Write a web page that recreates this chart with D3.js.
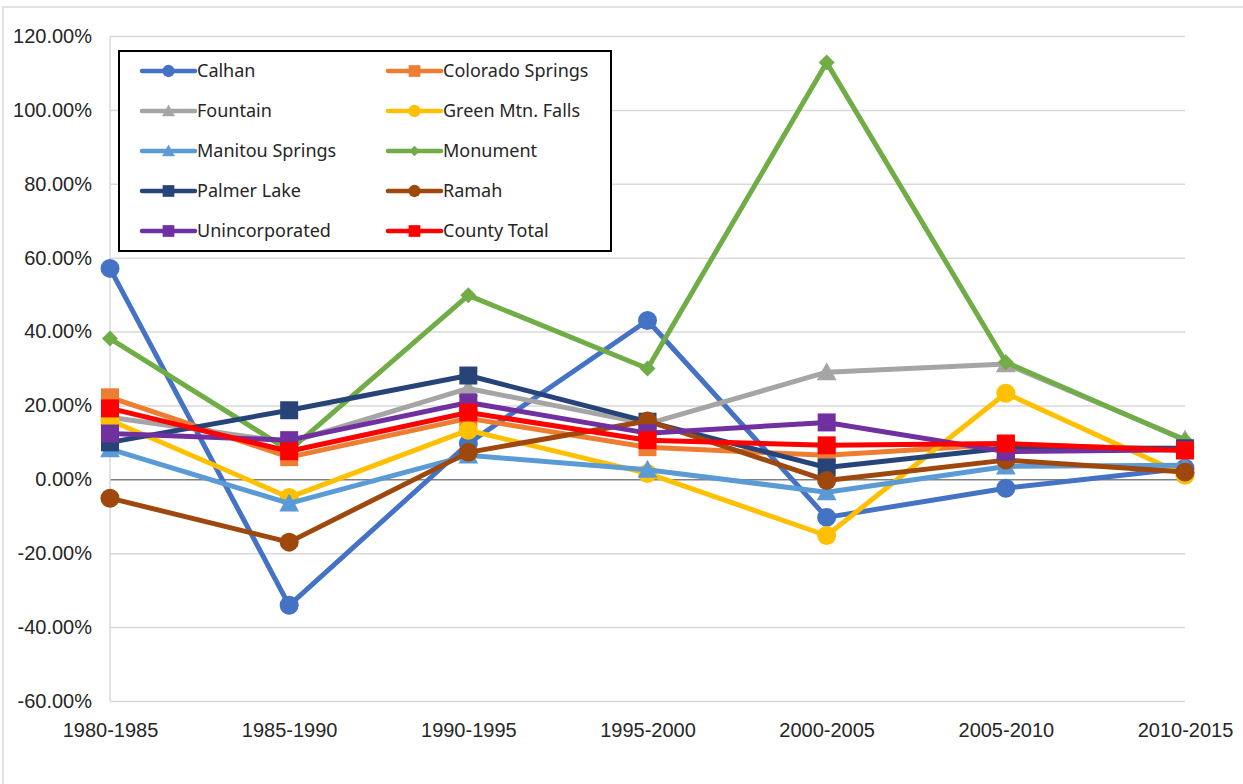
<!DOCTYPE html>
<html>
<head>
<meta charset="utf-8">
<script src="https://cdn.jsdelivr.net/npm/d3@7"></script>
<style>
    html, body { margin: 0; padding: 0; background: #fff; }
    svg { display: block; font-family: "Noto Sans", "Open Sans", sans-serif; }
    .grid-line { stroke: #d9d9d9; stroke-width: 1.5; }
</style>
</head>
<body>
<div id="chart"></div>
<script>
(function () {
    "use strict";

    var periods = ['1980-1985', '1985-1990', '1990-1995', '1995-2000', '2000-2005', '2005-2010', '2010-2015'];
    var yTicks = [-60, -40, -20, 0, 20, 40, 60, 80, 100, 120];

    // growth rate per period, in percent
    var calhan = [57.1, -34.1, 9.7, 43.0, -10.3, -2.4, 3.0];
    var coloradoSprings = [22.2, 6.0, 16.5, 8.7, 6.5, 9.5, 8.0];
    var fountain = [16.8, 10.0, 24.6, 15.0, 29.0, 31.2, 10.8];
    var greenMtnFalls = [16.0, -4.9, 13.3, 1.6, -15.2, 23.3, 1.1];
    var manitouSprings = [8.2, -6.5, 6.5, 2.6, -3.5, 3.5, 3.8];
    var monument = [38.1, 7.8, 49.8, 30.0, 112.8, 31.7, 10.6];
    var palmerLake = [10.0, 18.7, 28.1, 15.6, 3.2, 8.5, 8.4];
    var ramah = [-5.1, -17.0, 7.3, 15.8, -0.3, 5.2, 2.0];
    var unincorporated = [12.4, 10.6, 20.8, 12.5, 15.4, 7.5, 8.0];
    var countyTotal = [19.2, 7.6, 18.1, 10.6, 9.2, 9.7, 7.8];

    var series = [
        { name: 'Calhan', values: calhan, color: '#4472C4', marker: 'circle' },
        { name: 'Colorado Springs', values: coloradoSprings, color: '#ED7D31', marker: 'square' },
        { name: 'Fountain', values: fountain, color: '#A5A5A5', marker: 'triangle' },
        { name: 'Green Mtn. Falls', values: greenMtnFalls, color: '#FFC000', marker: 'circle' },
        { name: 'Manitou Springs', values: manitouSprings, color: '#5B9BD5', marker: 'triangle' },
        { name: 'Monument', values: monument, color: '#70AD47', marker: 'diamond' },
        { name: 'Palmer Lake', values: palmerLake, color: '#264478', marker: 'square' },
        { name: 'Ramah', values: ramah, color: '#9E480E', marker: 'circle' },
        { name: 'Unincorporated', values: unincorporated, color: '#7030A0', marker: 'square' },
        { name: 'County Total', values: countyTotal, color: '#FF0000', marker: 'square' }
    ];

    var width = 1243, height = 784;
    var plot = { left: 110, right: 1185, top: 36, bottom: 701 };

    var svg = d3.select('#chart').append('svg')
        .attr('width', width)
        .attr('height', height);

    // chart area border
    svg.append('rect')
        .attr('x', 3).attr('y', 7)
        .attr('width', width + 10).attr('height', height + 10)
        .attr('fill', '#fff').attr('stroke', '#d9d9d9').attr('stroke-width', 1.5);

    var x = d3.scalePoint()
        .domain(periods)
        .range([plot.left, plot.right]);

    var y = d3.scaleLinear()
        .domain([-60, 120])
        .range([plot.bottom, plot.top]);

    var pctFormat = function (d) { return d.toFixed(2) + '%'; };

    // y axis with gridlines
    var yAxis = d3.axisLeft(y)
        .tickValues(yTicks)
        .tickFormat(pctFormat)
        .tickSize(0)
        .tickPadding(18);

    var yAxisG = svg.append('g')
        .attr('class', 'y axis')
        .attr('transform', 'translate(' + plot.left + ',0)')
        .call(yAxis);
    yAxisG.select('.domain').remove();
    yAxisG.selectAll('text')
        .attr('font-size', 20)
        .attr('fill', '#262626');
    yAxisG.selectAll('g.tick').append('line')
        .attr('class', 'grid-line')
        .attr('x1', 0).attr('x2', plot.right - plot.left)
        .attr('y1', 0).attr('y2', 0)
        .filter(function (d) { return d === 0; })
        .style('stroke', '#7f7f7f');

    // vertical axis line
    svg.append('line')
        .attr('class', 'grid-line')
        .attr('x1', plot.left).attr('x2', plot.left)
        .attr('y1', y(120)).attr('y2', y(-60));

    // x axis labels at the bottom
    var xAxis = d3.axisBottom(x)
        .tickSize(0)
        .tickPadding(22);

    var xAxisG = svg.append('g')
        .attr('class', 'x axis')
        .attr('transform', 'translate(0,' + plot.bottom + ')')
        .call(xAxis);
    xAxisG.select('.domain').remove();
    xAxisG.selectAll('text')
        .attr('font-size', 20)
        .attr('fill', '#262626');

    function markerPath(type, size) {
        var s = size;
        if (type === 'circle') return d3.symbol().type(d3.symbolCircle).size(Math.PI * s * s / 4)();
        if (type === 'square') return d3.symbol().type(d3.symbolSquare).size(s * s)();
        if (type === 'triangle') return 'M0,' + (-s * 0.55) + 'L' + (s * 0.55) + ',' + (s * 0.45) + 'L' + (-s * 0.55) + ',' + (s * 0.45) + 'Z';
        return 'M0,' + (-s / 2) + 'L' + (s / 2) + ',0L0,' + (s / 2) + 'L' + (-s / 2) + ',0Z';
    }

    var markerSize = { circle: 19, square: 18, triangle: 18, diamond: 16 };

    var line = d3.line()
        .x(function (d, i) { return x(periods[i]); })
        .y(function (d) { return y(d); });

    var seriesG = svg.selectAll('.series')
        .data(series)
        .enter().append('g')
        .attr('class', 'series');

    seriesG.append('path')
        .attr('d', function (d) { return line(d.values); })
        .attr('fill', 'none')
        .attr('stroke', function (d) { return d.color; })
        .attr('stroke-width', 5)
        .attr('stroke-linejoin', 'round');

    seriesG.each(function (s) {
        d3.select(this).selectAll('.marker')
            .data(s.values)
            .enter().append('path')
            .attr('class', 'marker')
            .attr('transform', function (d, i) { return 'translate(' + x(periods[i]) + ',' + y(d) + ')'; })
            .attr('d', markerPath(s.marker, markerSize[s.marker]))
            .attr('fill', s.color);
    });

    // legend
    var legend = svg.append('g')
        .attr('class', 'legend');

    legend.append('rect')
        .attr('x', 119).attr('y', 51)
        .attr('width', 492).attr('height', 200)
        .attr('fill', '#fff')
        .attr('stroke', '#000')
        .attr('stroke-width', 2);

    var legendItems = legend.selectAll('.legend-item')
        .data(series)
        .enter().append('g')
        .attr('class', 'legend-item')
        .attr('transform', function (d, i) {
            var col = i % 2, row = Math.floor(i / 2);
            return 'translate(' + (142 + col * 246) + ',' + (71 + row * 40) + ')';
        });

    legendItems.append('line')
        .attr('x1', 0).attr('x2', 53)
        .attr('y1', 0).attr('y2', 0)
        .attr('stroke', function (d) { return d.color; })
        .attr('stroke-width', 4.5)
        .attr('stroke-linecap', 'round');

    legendItems.append('path')
        .attr('transform', 'translate(26.5,0)')
        .attr('d', function (d) { return markerPath(d.marker, markerSize[d.marker] * 0.65); })
        .attr('fill', function (d) { return d.color; });

    legendItems.append('text')
        .attr('x', 55)
        .attr('y', 0)
        .attr('dy', '0.35em')
        .attr('font-size', 18)
        .attr('fill', '#262626')
        .text(function (d) { return d.name; });
})();
</script>
</body>
</html>
